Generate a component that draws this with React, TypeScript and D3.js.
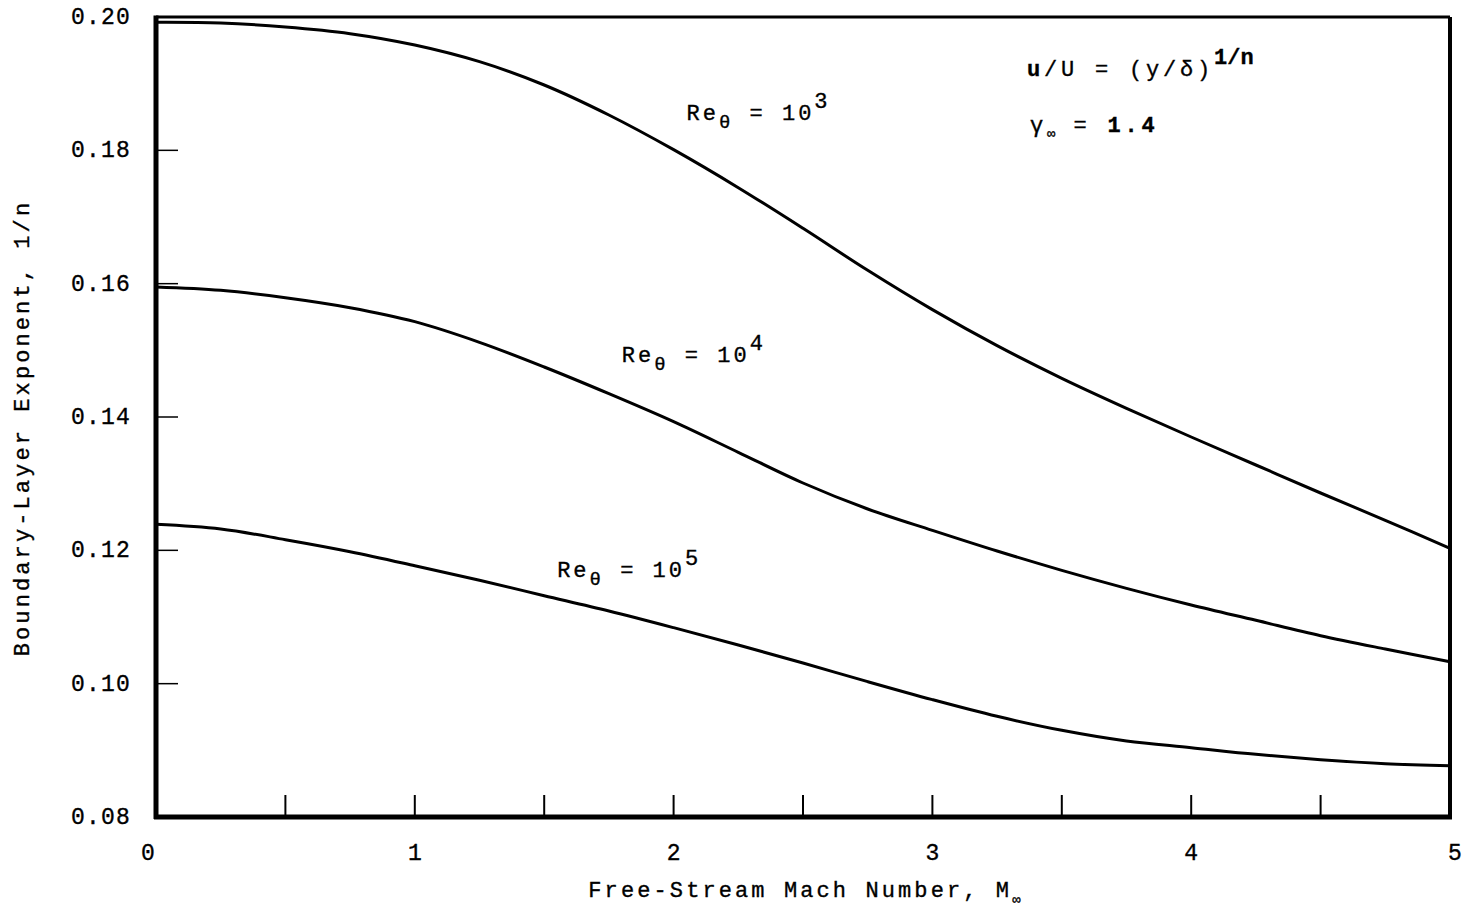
import React from "react";
import * as d3 from "d3";

const machValues = [0, 0.25, 0.5, 0.75, 1, 1.25, 1.5, 1.75, 2, 2.25, 2.5, 2.75, 3, 3.25, 3.5, 3.75, 4, 4.25, 4.5, 4.75, 5];
const re3Values = [0.1992, 0.1991, 0.1985, 0.1975, 0.1958, 0.1933, 0.1898, 0.1853, 0.1801, 0.1744, 0.1683, 0.1620, 0.1561, 0.1507, 0.1458, 0.1413, 0.1370, 0.1328, 0.1286, 0.1245, 0.1203];
const re4Values = [0.1595, 0.1590, 0.1579, 0.1564, 0.1543, 0.1512, 0.1475, 0.1435, 0.1393, 0.1347, 0.1301, 0.1262, 0.1230, 0.1199, 0.1170, 0.1143, 0.1118, 0.1095, 0.1072, 0.1052, 0.1033];
const re5Values = [0.1239, 0.1232, 0.1216, 0.1198, 0.1177, 0.1155, 0.1132, 0.1109, 0.1084, 0.1058, 0.1031, 0.1003, 0.0976, 0.0951, 0.0930, 0.0914, 0.0904, 0.0894, 0.0886, 0.0880, 0.0877];

const yTickValues = [0.08, 0.10, 0.12, 0.14, 0.16, 0.18, 0.20];
const xLabelValues = [0, 1, 2, 3, 4, 5];
const xTickValues = [0.5, 1, 1.5, 2, 2.5, 3, 3.5, 4, 4.5];
const curveLabels = [
  { exp: "3", m: 2.05, v: 0.1846 },
  { exp: "4", m: 1.80, v: 0.1483 },
  { exp: "5", m: 1.55, v: 0.1160 },
];

const FONT = "'Liberation Mono', 'DejaVu Sans Mono', monospace";

export default function App() {
  const width = 1465;
  const height = 914;
  const left = 156, right = 1450, top = 17, bottom = 817;
  const x = d3.scaleLinear().domain([0, 5]).range([left, right]);
  const y = d3.scaleLinear().domain([0.08, 0.2]).range([bottom, top]);
  const line = d3
    .line<number>()
    .x((_, i) => x(machValues[i]))
    .y((d) => y(d))
    .curve(d3.curveCatmullRom.alpha(0.5));
  const series = [re3Values, re4Values, re5Values];
  const txt = { fontFamily: FONT, fill: "#000", stroke: "#000", strokeWidth: 0.35 } as const;
  return (
    <svg width={width} height={height} style={{ position: "absolute", left: 0, top: 0, background: "#fff" }}>
      <rect x={0} y={0} width={width} height={height} fill="#fff" />
      {/* frame */}
      <line x1={left} y1={top} x2={right} y2={top} stroke="#000" strokeWidth={3} />
      <line x1={right} y1={top} x2={right} y2={bottom} stroke="#000" strokeWidth={4} />
      <line x1={left} y1={top - 1.5} x2={left} y2={bottom + 2} stroke="#000" strokeWidth={5} />
      <line x1={left - 2} y1={bottom} x2={right + 2} y2={bottom} stroke="#000" strokeWidth={5} />
      {/* y ticks */}
      {yTickValues.map((v) => (
        <g key={"y" + v}>
          {v > 0.08 && v < 0.2 && (
            <line x1={left} x2={left + 22} y1={y(v)} y2={y(v)} stroke="#000" strokeWidth={1.5} />
          )}
          <text x={131} y={y(v) + 7} textAnchor="end" fontSize={23} letterSpacing={1.2} {...txt}>
            {v.toFixed(2)}
          </text>
        </g>
      ))}
      {/* x ticks */}
      {xTickValues.map((v) => (
        <line key={"xt" + v} x1={x(v)} x2={x(v)} y1={bottom} y2={bottom - 22} stroke="#000" strokeWidth={2} />
      ))}
      {xLabelValues.map((v) => (
        <text key={"xl" + v} x={x(v) - (v === 0 ? 8 : 0) + (v === 5 ? 5 : 0)} y={860} textAnchor="middle" fontSize={23} {...txt}>
          {v}
        </text>
      ))}
      {/* curves */}
      {series.map((s, i) => (
        <path key={"s" + i} d={line(s) || ""} fill="none" stroke="#000" strokeWidth={3} />
      ))}
      {/* curve labels */}
      {curveLabels.map((c) => (
        <text key={"cl" + c.exp} x={x(c.m)} y={y(c.v)} fontSize={22} letterSpacing={3} xmlSpace="preserve" {...txt}>
          Re
          <tspan dy={8} fontSize={19}>θ</tspan>
          <tspan dy={-8}>{" = 10"}</tspan>
          <tspan dy={-12} fontSize={22}>{c.exp}</tspan>
        </text>
      ))}
      {/* annotation */}
      <text x={1027} y={76} fontSize={22} letterSpacing={3.8} xmlSpace="preserve" {...txt}>
        <tspan fontWeight="bold">u</tspan>/U = (y/δ)
        <tspan dy={-12} fontWeight="bold" letterSpacing={0}>1/n</tspan>
      </text>
      <text x={1030} y={132} fontSize={22} letterSpacing={3.8} xmlSpace="preserve" {...txt}>
        γ<tspan dy={6} fontSize={14} letterSpacing={1}>∞</tspan>
        <tspan dy={-6}>{" = "}</tspan>
        <tspan fontWeight="bold">1.4</tspan>
      </text>
      {/* axis titles */}
      <text x={806} y={897} textAnchor="middle" fontSize={22} letterSpacing={3.1} xmlSpace="preserve" {...txt}>
        Free-Stream Mach Number, M<tspan dy={7} fontSize={14}>∞</tspan>
      </text>
      <text
        transform={`translate(29, 428) rotate(-90)`}
        textAnchor="middle"
        fontSize={22}
        letterSpacing={3.1}
        {...txt}
      >
        Boundary-Layer Exponent, 1/n
      </text>
    </svg>
  );
}
